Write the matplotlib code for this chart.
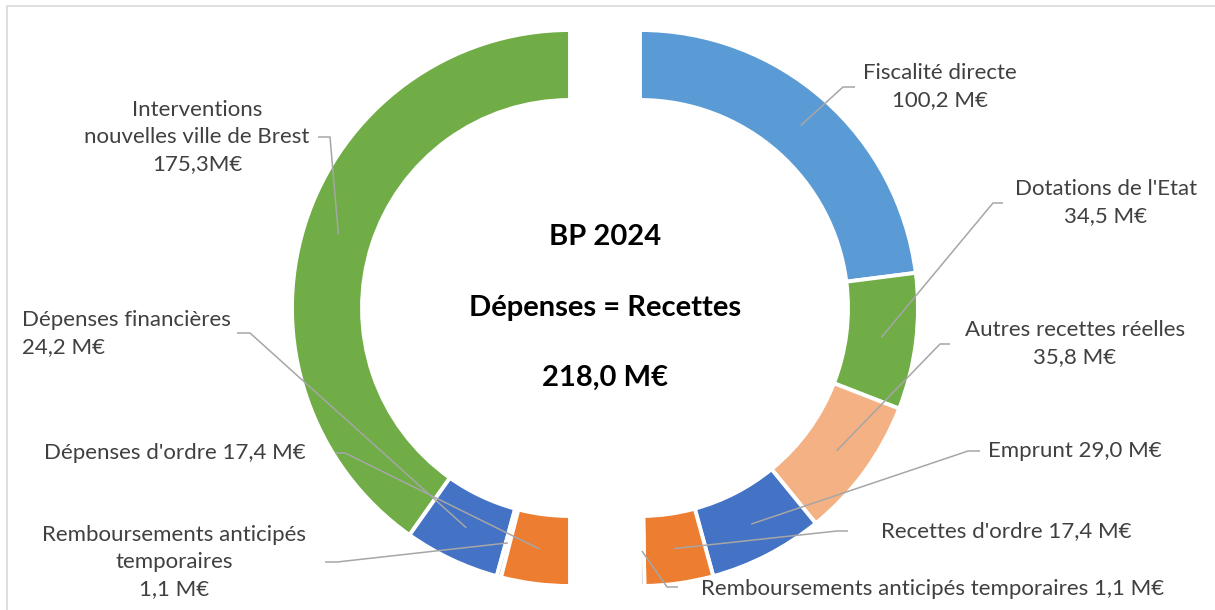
import numpy as np
import matplotlib.pyplot as plt
from matplotlib.patches import Rectangle

plt.rcParams['font.family'] = ['Lato', 'DejaVu Sans']

# --- données (M€) ---
total = 218.0

recettes_labels = ['Fiscalité directe\n100,2 M€', "Dotations de l'Etat\n34,5 M€",
                   'Autres recettes réelles\n35,8 M€', 'Emprunt 29,0 M€',
                   "Recettes d'ordre 17,4 M€",
                   'Remboursements anticipés temporaires 1,1 M€']
recettes_values = [100.2, 34.5, 35.8, 29.0, 17.4, 1.1]
recettes_colors = ['#5B9BD5', '#70AD47', '#F4B183', '#4472C4', '#ED7D31', '#A5A5A5']

depenses_labels = ['Interventions\nnouvelles ville de Brest\n175,3M€',
                   'Dépenses financières\n24,2 M€',
                   'Remboursements anticipés\ntemporaires\n1,1 M€',
                   "Dépenses d'ordre 17,4 M€"]
depenses_values = [175.3, 24.2, 1.1, 17.4]
depenses_colors = ['#70AD47', '#4472C4', '#A5A5A5', '#ED7D31']

center_lines = ['BP 2024', 'Dépenses = Recettes', '218,0 M€']

# --- mise en page (pixels, y vers le bas) ---
W, H = 1215, 610
R, RING = 278, 70
CY = 308
CX_LEFT, CX_RIGHT = 570, 640

# position du texte, alignement, départ du trait de rappel, coude
rec_layout = [
    ((940, 87), 'center', (855, 87), (843, 87)),
    ((1106, 203), 'center', (1003, 203), (993, 203)),
    ((1075, 344), 'center', (950, 344), (940, 344)),
    ((1075, 451), 'center', (980, 451), (968, 451)),
    ((1006, 531), 'center', (848, 531), (837, 531)),
    ((933, 589), 'center', (678, 587), (667, 587)),
]
dep_layout = [
    ((197, 137), 'center', (318, 137), (330, 137)),
    ((22, 334), 'left', (237, 333), (250, 333)),
    ((174, 562), 'center', (325, 562), (337, 562)),
    ((175, 453), 'center', (335, 453), (345, 453)),
]


def fy(y):
    return H - y


fig = plt.figure(figsize=(W / 100, H / 100), dpi=100)
ax = fig.add_axes([0, 0, 1, 1])

wp = dict(width=RING, edgecolor='white', linewidth=2.8)
w_rec, _ = ax.pie(np.array(recettes_values) / (2 * total), normalize=False,
                  startangle=90, counterclock=False, colors=recettes_colors,
                  center=(CX_RIGHT, fy(CY)), radius=R, wedgeprops=wp)
w_dep, _ = ax.pie(np.array(depenses_values) / (2 * total), normalize=False,
                  startangle=90, counterclock=True, colors=depenses_colors,
                  center=(CX_LEFT, fy(CY)), radius=R, wedgeprops=wp)


def add_labels(wedges, labels, layout, cx):
    for w, lab, (pos, ha, p0, p1) in zip(wedges, labels, layout):
        mid = np.deg2rad((w.theta1 + w.theta2) / 2)
        r = R - RING / 2
        tx = cx + r * np.cos(mid)
        ty = fy(CY) + r * np.sin(mid)
        ax.plot([p0[0], p1[0], tx], [fy(p0[1]), fy(p1[1]), ty],
                color='#A6A6A6', lw=1.1, zorder=5, solid_capstyle='butt')
        ax.text(pos[0], fy(pos[1]), lab, ha=ha, va='center', fontsize=16,
                color='#404040', linespacing=1.44, zorder=6)


add_labels(w_rec, recettes_labels, rec_layout, CX_RIGHT)
add_labels(w_dep, depenses_labels, dep_layout, CX_LEFT)

for line, y in zip(center_lines, [237, 308, 378]):
    ax.text(605, fy(y), line, ha='center', va='center', fontsize=21,
            fontweight='bold', color='black')

# cadre du graphique
ax.add_patch(Rectangle((7, -10), 1300, fy(6) + 10, fill=False,
                       edgecolor='#D9D9D9', lw=1.2))

ax.set_xlim(0, W)
ax.set_ylim(0, H)
ax.set_aspect('auto')
ax.axis('off')

plt.savefig('out.png', dpi=100)
plt.close()
